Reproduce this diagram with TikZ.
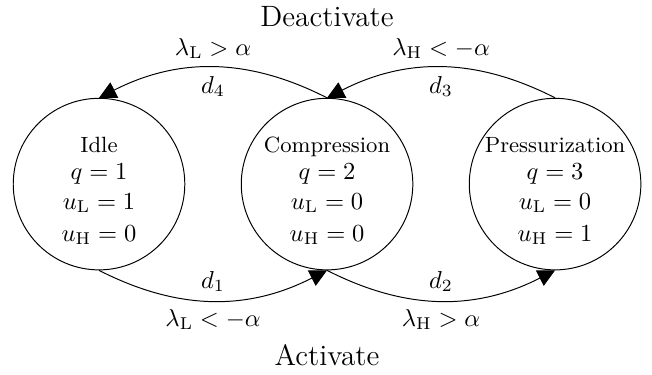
\documentclass[tikz,border=0pt]{standalone}
\usetikzlibrary{arrows.meta}
\begin{document}
\begin{tikzpicture}[mode/.style={draw, circle, minimum size=70pt, inner sep=-3pt, align=center},
  >={Triangle[length=7pt,width=7pt]}]
\useasboundingbox (-1.42,2.64) rectangle (7.93,-2.73);
\node[mode] (idle) at (0,0) {\rule{0pt}{12pt}{\small Idle}\\[-1pt]$q=1$\\$u_{\mathrm{L}}=1$\\[1pt]$u_{\mathrm{H}}=0$};
\node[mode] (comp) at (3.27,0) {\rule{0pt}{12pt}{\small Compression}\\[-1pt]$q=2$\\$u_{\mathrm{L}}=0$\\[1pt]$u_{\mathrm{H}}=0$};
\node[mode] (press) at (6.54,0) {\rule{0pt}{12pt}{\small Pressurization}\\[-1pt]$q=3$\\$u_{\mathrm{L}}=0$\\[1pt]$u_{\mathrm{H}}=1$};
\node[font=\large] (deact) at (3.27,2.40) {Deactivate};
\node[font=\large] (act) at (3.27,-2.45) {Activate};

\draw[->] (idle.south) to[bend right=27] node[above] {$d_1$} node[below] {$\lambda_{\mathrm{L}}<-\alpha$} (comp.south);
\draw[->] (comp.south) to[bend right=27] node[above] {$d_2$} node[below] {$\lambda_{\mathrm{H}}>\alpha$} (press.south);
\draw[->] (press.north) to[bend right=27] node[above] {$\lambda_{\mathrm{H}}<-\alpha$} node[below] {$d_3$} (comp.north);
\draw[->] (comp.north) to[bend right=27] node[above] {$\lambda_{\mathrm{L}}>\alpha$} node[below] {$d_4$} (idle.north);
\end{tikzpicture}
\end{document}
